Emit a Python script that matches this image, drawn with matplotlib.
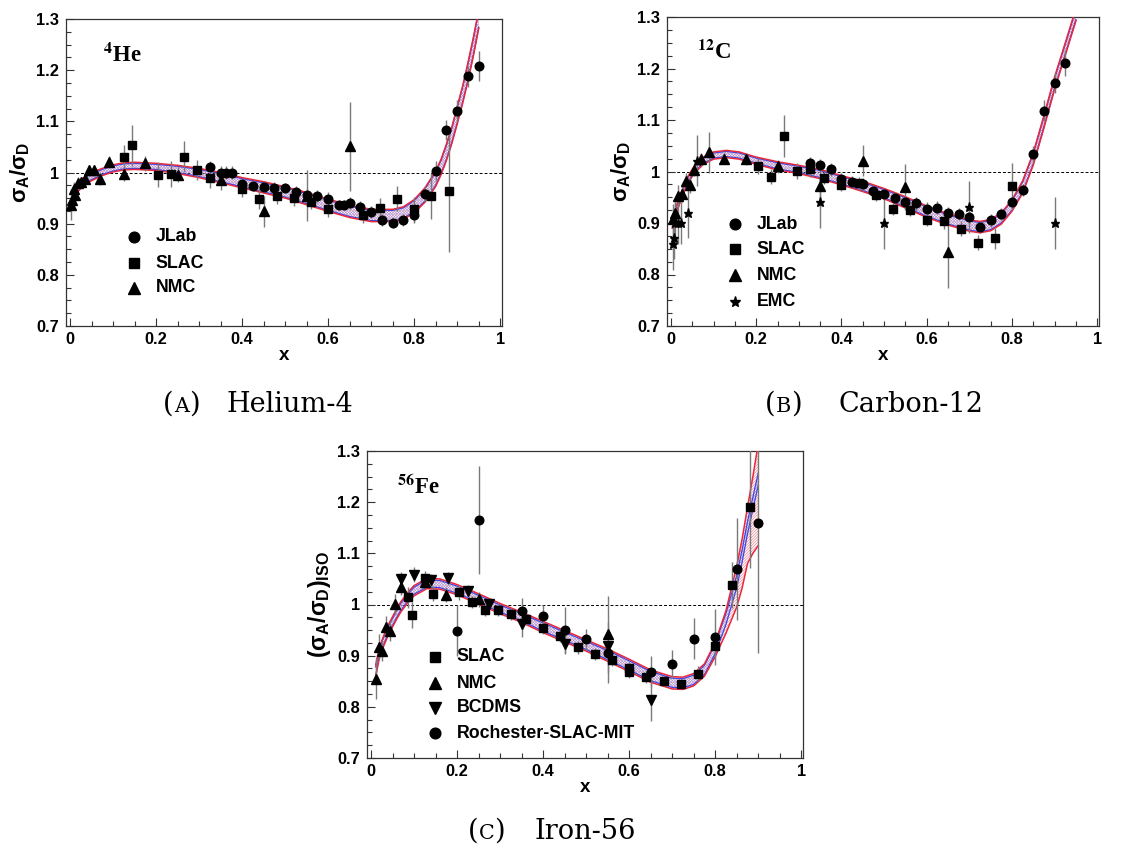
import matplotlib
matplotlib.use("Agg")
import matplotlib.pyplot as plt
import numpy as np

plt.rcParams['font.family'] = ['Liberation Sans', 'DejaVu Sans']
plt.rcParams['mathtext.fontset'] = 'custom'
plt.rcParams['mathtext.rm'] = 'Liberation Sans'
plt.rcParams['mathtext.bf'] = 'Liberation Sans:bold'
plt.rcParams['mathtext.it'] = 'Liberation Sans:italic'
plt.rcParams['hatch.linewidth'] = 0.45

# ---------------- Panel A: 4He ----------------
he_jlab_x = [0.325, 0.35, 0.363, 0.376, 0.40, 0.425, 0.45, 0.475, 0.50, 0.525, 0.55, 0.575, 0.60, 0.625, 0.637, 0.65,
             0.675, 0.70, 0.725, 0.75, 0.775, 0.80, 0.825, 0.85, 0.875, 0.90, 0.925, 0.95]
he_jlab_y = [1.011, 1.000, 1.000, 1.000, 0.978, 0.973, 0.972, 0.969, 0.969, 0.962, 0.956, 0.954, 0.949, 0.936, 0.936,
             0.940, 0.932, 0.923, 0.907, 0.902, 0.907, 0.917, 0.958, 1.003, 1.083, 1.121, 1.188, 1.208]
he_jlab_e = [0.012, 0.012, 0.012, 0.012, 0.012, 0.010, 0.012, 0.012, 0.010, 0.012, 0.012, 0.012, 0.012, 0.010, 0.010,
             0.012, 0.012, 0.012, 0.012, 0.010, 0.012, 0.015, 0.015, 0.020, 0.020, 0.020, 0.020, 0.030]
he_slac_x = [0.125, 0.145, 0.205, 0.235, 0.265, 0.295, 0.325, 0.40, 0.44, 0.48, 0.52, 0.56, 0.60, 0.68, 0.72, 0.76,
             0.80, 0.84, 0.88]
he_slac_y = [1.031, 1.053, 0.996, 0.997, 1.031, 1.005, 0.990, 0.967, 0.949, 0.954, 0.950, 0.943, 0.928, 0.917, 0.930,
             0.949, 0.928, 0.954, 0.964]
he_slac_e = [0.023, 0.040, 0.025, 0.025, 0.030, 0.020, 0.020, 0.015, 0.020, 0.015, 0.015, 0.015, 0.015, 0.015, 0.020,
             0.025, 0.025, 0.045, 0.120]
he_nmc_x = [0.0015, 0.005, 0.009, 0.0125, 0.0175, 0.025, 0.035, 0.045, 0.055, 0.07, 0.09, 0.125, 0.175, 0.25, 0.35,
            0.45, 0.55, 0.65]
he_nmc_y = [0.937, 0.946, 0.967, 0.956, 0.980, 0.982, 0.988, 1.004, 1.004, 0.988, 1.020, 0.998, 1.018, 0.996, 0.985,
            0.924, 0.955, 1.051]
he_nmc_e = [0.030, 0.020, 0.015, 0.015, 0.012, 0.010, 0.010, 0.010, 0.010, 0.012, 0.012, 0.015, 0.015, 0.015, 0.020,
            0.030, 0.050, 0.087]
he_band_x = [0.003, 0.01, 0.02, 0.03, 0.05, 0.075, 0.1, 0.125, 0.15, 0.2, 0.25, 0.3, 0.35, 0.4, 0.45, 0.5, 0.55, 0.6,
             0.65, 0.7, 0.75, 0.775, 0.8, 0.825, 0.85, 0.8625, 0.875, 0.8875, 0.9, 0.9125, 0.925, 0.9375, 0.95]
he_band_mid = [0.955, 0.962, 0.972, 0.981, 0.992, 1.001, 1.008, 1.012, 1.013, 1.011, 1.006, 0.999, 0.990, 0.980, 0.971,
               0.961, 0.949, 0.936, 0.924, 0.916, 0.916, 0.921, 0.934, 0.956, 0.988, 1.011, 1.040, 1.073, 1.112, 1.152,
               1.197, 1.246, 1.300]
he_red_half = [0.008, 0.008, 0.008, 0.008, 0.008, 0.007, 0.007, 0.007, 0.007, 0.007, 0.008, 0.009, 0.010, 0.010, 0.011,
               0.011, 0.012, 0.012, 0.012, 0.012, 0.012, 0.012, 0.013, 0.014, 0.015, 0.015, 0.016, 0.016, 0.017, 0.017,
               0.018, 0.018, 0.018]
he_blue_half = [0.006, 0.006, 0.006, 0.006, 0.006, 0.005, 0.005, 0.005, 0.005, 0.005, 0.006, 0.007, 0.008, 0.008, 0.009,
                0.009, 0.010, 0.010, 0.010, 0.010, 0.010, 0.010, 0.011, 0.012, 0.013, 0.013, 0.014, 0.014, 0.015, 0.015,
                0.016, 0.016, 0.016]

# ---------------- Panel B: 12C ----------------
c_jlab_x = [0.325, 0.35, 0.375, 0.40, 0.425, 0.45, 0.475, 0.50, 0.525, 0.55, 0.575, 0.60, 0.625, 0.65, 0.675, 0.70,
            0.725, 0.75, 0.775, 0.80, 0.825, 0.85, 0.875, 0.90, 0.925]
c_jlab_y = [1.016, 1.012, 1.004, 0.986, 0.980, 0.975, 0.962, 0.956, 0.949, 0.941, 0.938, 0.928, 0.930, 0.920, 0.917,
            0.912, 0.892, 0.905, 0.917, 0.940, 0.964, 1.034, 1.118, 1.172, 1.211]
c_jlab_e = [0.012, 0.012, 0.012, 0.012, 0.012, 0.012, 0.012, 0.012, 0.012, 0.012, 0.012, 0.012, 0.012, 0.012, 0.012,
            0.012, 0.012, 0.012, 0.012, 0.012, 0.012, 0.015, 0.020, 0.020, 0.025]
c_slac_x = [0.205, 0.235, 0.265, 0.295, 0.325, 0.36, 0.40, 0.44, 0.48, 0.52, 0.56, 0.60, 0.64, 0.68, 0.72, 0.76, 0.80]
c_slac_y = [1.011, 0.990, 1.069, 1.001, 1.005, 0.988, 0.974, 0.977, 0.954, 0.927, 0.925, 0.906, 0.904, 0.889, 0.862,
            0.870, 0.972]
c_slac_e = [0.015, 0.015, 0.040, 0.015, 0.015, 0.012, 0.012, 0.012, 0.012, 0.012, 0.012, 0.012, 0.015, 0.015, 0.015,
            0.020, 0.045]
c_nmc_x = [0.005, 0.01, 0.0175, 0.025, 0.035, 0.045, 0.055, 0.07, 0.09, 0.125, 0.175, 0.25, 0.35, 0.45, 0.55, 0.65]
c_nmc_y = [0.907, 0.920, 0.953, 0.956, 0.982, 0.973, 1.003, 1.024, 1.037, 1.025, 1.024, 1.010, 0.972, 1.021, 0.970,
           0.844]
c_nmc_e = [0.030, 0.020, 0.020, 0.015, 0.015, 0.015, 0.012, 0.012, 0.040, 0.010, 0.012, 0.012, 0.040, 0.030, 0.045,
           0.070]
c_emc_x = [0.004, 0.006, 0.009, 0.016, 0.023, 0.04, 0.06, 0.35, 0.50, 0.70, 0.90]
c_emc_y = [0.859, 0.870, 0.900, 0.900, 0.900, 0.920, 1.021, 0.940, 0.900, 0.931, 0.900]
c_emc_e = [0.050, 0.040, 0.040, 0.040, 0.040, 0.050, 0.050, 0.050, 0.050, 0.050, 0.050]
c_band_x = [0.003, 0.0075, 0.013, 0.021, 0.03, 0.037, 0.045, 0.052, 0.065, 0.076, 0.1, 0.13, 0.16, 0.2, 0.25, 0.3,
            0.35, 0.4, 0.45, 0.5, 0.55, 0.6, 0.65, 0.7, 0.725, 0.75, 0.775, 0.8, 0.825, 0.85, 0.875, 0.9, 0.925, 0.95]
c_band_mid = [0.897, 0.912, 0.927, 0.946, 0.965, 0.979, 0.991, 1.000, 1.012, 1.021, 1.031, 1.034, 1.031, 1.021, 1.011,
              1.004, 0.995, 0.983, 0.971, 0.957, 0.940, 0.922, 0.907, 0.895, 0.892, 0.896, 0.909, 0.934, 0.970, 1.025,
              1.097, 1.172, 1.238, 1.305]
c_red_half = [0.007] * 14 + [0.008, 0.008, 0.009, 0.009, 0.010, 0.010, 0.011, 0.011, 0.011, 0.011, 0.011, 0.011, 0.011,
                             0.011, 0.012, 0.012, 0.012, 0.012, 0.012, 0.012]
c_blue_half = [0.005] * 14 + [0.006, 0.006, 0.007, 0.007, 0.008, 0.008, 0.009, 0.009, 0.009, 0.009, 0.009, 0.009, 0.009,
                              0.009, 0.010, 0.010, 0.010, 0.010, 0.010, 0.010]

# ---------------- Panel C: 56Fe ----------------
fe_slac_x = [0.085, 0.095, 0.125, 0.145, 0.205, 0.235, 0.265, 0.295, 0.325, 0.36, 0.40, 0.44, 0.48, 0.52, 0.56, 0.60,
             0.60, 0.64, 0.68, 0.72, 0.76, 0.80, 0.84, 0.88]
fe_slac_y = [1.014, 0.979, 1.051, 1.021, 1.024, 1.005, 0.990, 0.990, 0.981, 0.971, 0.954, 0.938, 0.916, 0.903, 0.891,
             0.875, 0.868, 0.858, 0.851, 0.845, 0.865, 0.918, 1.039, 1.191]
fe_slac_e = [0.020, 0.025, 0.015, 0.015, 0.015, 0.012, 0.012, 0.012, 0.012, 0.012, 0.012, 0.012, 0.012, 0.012, 0.012,
             0.012, 0.012, 0.012, 0.010, 0.010, 0.015, 0.020, 0.045, 0.120]
fe_nmc_x = [0.0125, 0.0175, 0.025, 0.035, 0.045, 0.055, 0.07, 0.125, 0.175, 0.25, 0.55]
fe_nmc_y = [0.855, 0.917, 0.909, 0.957, 0.948, 1.001, 1.034, 1.044, 1.019, 1.010, 0.942]
fe_nmc_e = [0.040, 0.025, 0.020, 0.020, 0.020, 0.020, 0.015, 0.012, 0.015, 0.015, 0.075]
fe_bcdms_x = [0.07, 0.10, 0.14, 0.18, 0.225, 0.275, 0.35, 0.45, 0.55, 0.65]
fe_bcdms_y = [1.049, 1.058, 1.047, 1.051, 1.027, 1.001, 0.961, 0.923, 0.918, 0.813]
fe_bcdms_e = [0.015, 0.015, 0.012, 0.012, 0.012, 0.012, 0.025, 0.020, 0.030, 0.040]
fe_rsm_x = [0.20, 0.25, 0.35, 0.40, 0.45, 0.50, 0.55, 0.65, 0.70, 0.75, 0.80, 0.85, 0.90]
fe_rsm_y = [0.949, 1.165, 0.988, 0.978, 0.951, 0.932, 0.906, 0.869, 0.884, 0.933, 0.936, 1.069, 1.160]
fe_rsm_e = [0.050, 0.105, 0.025, 0.022, 0.045, 0.020, 0.060, 0.030, 0.027, 0.040, 0.055, 0.100, 0.255]
fe_band_x = [0.011, 0.015, 0.019, 0.025, 0.03, 0.04, 0.05, 0.06, 0.069, 0.085, 0.1, 0.13, 0.16, 0.2, 0.25, 0.3, 0.35,
             0.4, 0.45, 0.5, 0.55, 0.6, 0.65, 0.7, 0.725, 0.75, 0.775, 0.8, 0.825, 0.85, 0.8625, 0.875, 0.8875, 0.9]
fe_band_mid = [0.870, 0.888, 0.904, 0.919, 0.930, 0.950, 0.966, 0.982, 0.995, 1.013, 1.027, 1.041, 1.040, 1.029, 1.011,
               0.992, 0.975, 0.956, 0.938, 0.920, 0.901, 0.881, 0.860, 0.847, 0.846, 0.853, 0.872, 0.912, 0.966, 1.035,
               1.080, 1.135, 1.175, 1.215]
fe_red_half = [0.012, 0.011, 0.010, 0.010, 0.010, 0.010, 0.010, 0.010, 0.010, 0.010, 0.010, 0.010, 0.010, 0.010, 0.010,
               0.010, 0.010, 0.011, 0.011, 0.011, 0.012, 0.012, 0.012, 0.012, 0.012, 0.012, 0.012, 0.014, 0.022, 0.040,
               0.048, 0.055, 0.075, 0.100]
fe_blue_mid = [0.870, 0.888, 0.904, 0.919, 0.930, 0.950, 0.966, 0.982, 0.995, 1.013, 1.027, 1.041, 1.040, 1.029, 1.011,
               0.992, 0.975, 0.956, 0.938, 0.920, 0.901, 0.881, 0.860, 0.847, 0.846, 0.853, 0.872, 0.914, 0.972, 1.045,
               1.095, 1.150, 1.198, 1.245]
fe_blue_half = [0.008, 0.008, 0.007, 0.007, 0.007, 0.007, 0.007, 0.007, 0.007, 0.007, 0.007, 0.007, 0.007, 0.007, 0.007,
                0.007, 0.007, 0.008, 0.008, 0.008, 0.009, 0.009, 0.009, 0.009, 0.009, 0.009, 0.009, 0.010, 0.011, 0.012,
                0.012, 0.012, 0.012, 0.012]

xtick_vals = [0, 0.2, 0.4, 0.6, 0.8, 1.0]
xtick_labels = ["0", "0.2", "0.4", "0.6", "0.8", "1"]
ytick_vals = [0.7, 0.8, 0.9, 1.0, 1.1, 1.2, 1.3]
ytick_labels = ["0.7", "0.8", "0.9", "1", "1.1", "1.2", "1.3"]

RED = '#e8283c'
BLUE = '#3c46e6'
RED_H = '#f07c8a'
BLUE_H = '#8890f2'
ERRC = '#7a7a7a'

W, H = 1126, 850
fig = plt.figure(figsize=(W / 100, H / 100), dpi=100)


def make_axes(left, top, right, bottom):
    return fig.add_axes([left / W, 1 - bottom / H, (right - left) / W, (bottom - top) / H])


def style_axes(ax, ylabel, ylsize):
    ax.set_xlim(-0.0093, 1.004)
    ax.set_ylim(0.7, 1.3)
    ax.set_xticks(xtick_vals)
    ax.set_xticklabels(xtick_labels)
    ax.set_yticks(ytick_vals)
    ax.set_yticklabels(ytick_labels)
    ax.set_xticks(np.arange(0, 1.0001, 0.05), minor=True)
    ax.set_yticks(np.arange(0.7, 1.3001, 0.025), minor=True)
    ax.tick_params(which='both', direction='in', top=False, right=False, width=0.8, color='#333333')
    ax.tick_params(which='major', length=6)
    ax.tick_params(which='minor', length=3.5)
    ax.tick_params(axis='x', which='major', pad=4)
    ax.tick_params(axis='y', which='major', pad=5)
    for lab in ax.get_xticklabels() + ax.get_yticklabels():
        lab.set_fontweight('bold')
        lab.set_fontsize(11.8)
    for s in ax.spines.values():
        s.set_linewidth(0.9)
        s.set_color('#333333')
    ax.set_xlabel('x', fontsize=13.5, fontweight='bold', labelpad=0)
    ax.set_ylabel(ylabel, fontsize=ylsize, labelpad=3)
    ax.axhline(1.0, color='k', lw=0.7, ls=(0, (3, 2)), zorder=1)


def draw_band(ax, bx, mid, rhalf, bhalf, bmid=None):
    bx = np.asarray(bx)
    mid = np.asarray(mid)
    rhalf = np.asarray(rhalf)
    bhalf = np.asarray(bhalf)
    bm = mid if bmid is None else np.asarray(bmid)
    rlo, rhi = mid - rhalf, mid + rhalf
    blo, bhi = bm - bhalf, bm + bhalf
    ax.fill_between(bx, rlo, rhi, facecolor='none', edgecolor=RED_H, hatch='/' * 12, linewidth=0, zorder=2)
    ax.fill_between(bx, blo, bhi, facecolor='none', edgecolor=BLUE_H, hatch='\\' * 12, linewidth=0, zorder=2)
    ax.plot(bx, blo, color=BLUE, lw=0.9, zorder=3)
    ax.plot(bx, bhi, color=BLUE, lw=0.9, zorder=3)
    ax.plot(bx, rlo, color=RED, lw=1.1, zorder=3)
    ax.plot(bx, rhi, color=RED, lw=1.1, zorder=3)


MARK = {'o': 6.2, 's': 5.8, '^': 6.5, 'v': 6.5, '*': 6.5}


def draw_series(ax, x, y, e, marker):
    ax.errorbar(x, y, yerr=e, fmt='none', ecolor=ERRC, elinewidth=1.0, capsize=0, zorder=4)
    ax.plot(x, y, ls='none', marker=marker, ms=MARK[marker], color='k', mec='k', zorder=5)


def draw_legend(ax, entries, mx, tx, rows):
    for (marker, label), ry in zip(entries, rows):
        ax.plot([mx], [ry], transform=ax.transAxes, ls='none', marker=marker, ms=MARK[marker] + 1.5,
                color='k', clip_on=False, zorder=6)
        ax.text(tx, ry, label, transform=ax.transAxes, fontsize=12.8, fontweight='bold', va='center', ha='left')


def nucleus(ax, mass, sym, xf, yf):
    ax.text(xf, yf, r'$^{\mathbf{' + mass + '}}$' + sym, transform=ax.transAxes, fontsize=16.5,
            family='Liberation Serif', fontweight='bold', math_fontfamily='stix', va='baseline', ha='left')


# Panel A
axA = make_axes(66, 19, 502, 326)
style_axes(axA, r'$\mathbf{\sigma_A/\sigma_D}$', 16)
draw_band(axA, he_band_x, he_band_mid, he_red_half, he_blue_half)
draw_series(axA, he_nmc_x, he_nmc_y, he_nmc_e, '^')
draw_series(axA, he_slac_x, he_slac_y, he_slac_e, 's')
draw_series(axA, he_jlab_x, he_jlab_y, he_jlab_e, 'o')
draw_legend(axA, [('o', 'JLab'), ('s', 'SLAC'), ('^', 'NMC')], 0.156, 0.206, [0.290, 0.205, 0.124])
nucleus(axA, '4', 'He', 0.085, 0.86)

# Panel B
axB = make_axes(667, 17, 1099, 326)
style_axes(axB, r'$\mathbf{\sigma_A/\sigma_D}$', 16)
draw_band(axB, c_band_x, c_band_mid, c_red_half, c_blue_half)
draw_series(axB, c_emc_x, c_emc_y, c_emc_e, '*')
draw_series(axB, c_nmc_x, c_nmc_y, c_nmc_e, '^')
draw_series(axB, c_slac_x, c_slac_y, c_slac_e, 's')
draw_series(axB, c_jlab_x, c_jlab_y, c_jlab_e, 'o')
draw_legend(axB, [('o', 'JLab'), ('s', 'SLAC'), ('^', 'NMC'), ('*', 'EMC')], 0.157, 0.208,
            [0.330, 0.249, 0.165, 0.078])
nucleus(axB, '12', 'C', 0.070, 0.865)

# Panel C
axC = make_axes(367, 451, 803, 758)
style_axes(axC, r'$\mathbf{(\sigma_A/\sigma_D)_{ISO}}$', 16.5)
draw_band(axC, fe_band_x, fe_band_mid, fe_red_half, fe_blue_half, fe_blue_mid)
draw_series(axC, fe_rsm_x, fe_rsm_y, fe_rsm_e, 'o')
draw_series(axC, fe_nmc_x, fe_nmc_y, fe_nmc_e, '^')
draw_series(axC, fe_bcdms_x, fe_bcdms_y, fe_bcdms_e, 'v')
draw_series(axC, fe_slac_x, fe_slac_y, fe_slac_e, 's')
draw_legend(axC, [('s', 'SLAC'), ('^', 'NMC'), ('v', 'BCDMS'), ('o', 'Rochester-SLAC-MIT')], 0.156, 0.206,
            [0.329, 0.244, 0.163, 0.081])
nucleus(axC, '56', 'Fe', 0.068, 0.86)


# Captions
def caption(x_paren, x_name, y, letter, name):
    fs = 19.5
    sc = 0.76
    fig.text(x_paren / W, 1 - y / H, '(', fontsize=fs, family='DejaVu Serif', va='baseline', ha='left')
    fig.text((x_paren + 11) / W, 1 - y / H, letter, fontsize=fs * sc, family='DejaVu Serif', va='baseline',
             ha='left')
    fig.text((x_paren + 11 + fs * sc * 1.39 * 0.74) / W, 1 - y / H, ')', fontsize=fs, family='DejaVu Serif',
             va='baseline', ha='left')
    fig.text(x_name / W, 1 - y / H, name, fontsize=fs, family='DejaVu Serif', va='baseline', ha='left')


caption(163, 226, 412, 'A', 'Helium-4')
caption(765, 838, 412, 'B', 'Carbon-12')
caption(468, 535, 839, 'C', 'Iron-56')

fig.savefig('out.png', dpi=100, facecolor='white')
